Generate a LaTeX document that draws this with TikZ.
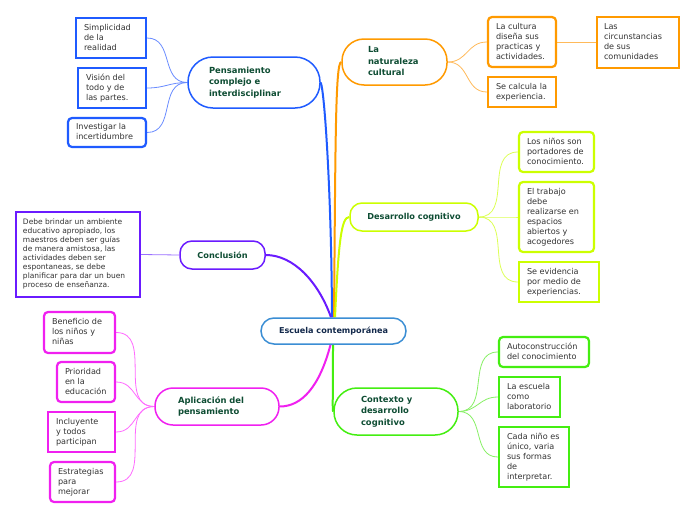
\documentclass[tikz,border=0pt]{standalone}
\usepackage{fontspec}
\setmainfont{DejaVu Sans}
\usetikzlibrary{calc}
\pgfdeclarelayer{bg}
\pgfdeclarelayer{conn}
\pgfsetlayers{bg,conn,main}
\definecolor{blueM}{HTML}{1F5BFF}
\definecolor{blueL}{HTML}{6A8CFF}
\definecolor{orangeM}{HTML}{FF9A00}
\definecolor{orangeL}{HTML}{FFBA5A}
\definecolor{limeM}{HTML}{CCFF00}
\definecolor{limeL}{HTML}{DDFF55}
\definecolor{purpleM}{HTML}{6A1BFF}
\definecolor{purpleL}{HTML}{9A70FF}
\definecolor{magM}{HTML}{F020F0}
\definecolor{magL}{HTML}{FF6BFF}
\definecolor{greenM}{HTML}{44EE11}
\definecolor{greenL}{HTML}{88F066}
\definecolor{centerB}{HTML}{3B8ED4}
\definecolor{leaftext}{HTML}{333333}
\definecolor{topictext}{HTML}{0E4D33}
\definecolor{centertext}{HTML}{13294B}
\newcommand\lbx[2]{\makebox[#1pt][l]{\begin{tabular}{@{}l@{}}#2\end{tabular}}}
\tikzset{
  leafbox/.style={draw=#1, line width=2.2pt, fill=white, text=leaftext, inner ysep=0pt, inner xsep=8pt,
    font=\fontsize{8.1}{10}\selectfont},
  leafround/.style={leafbox=#1, rounded corners=4pt},
  topic/.style={draw=#1, line width=1.5pt, fill=white, text=topictext, inner ysep=0pt,
    font=\bfseries\fontsize{8.4}{11.5}\selectfont},
  mainline/.style={draw=#1, line width=2pt},
  leafline/.style={draw=#1, line width=0.8pt, looseness=1.15},
}
\begin{document}
\begin{tikzpicture}[x=1pt,y=-1pt]
\begin{pgfonlayer}{bg}
\useasboundingbox[fill=white] (0,0) rectangle (696,520);
\end{pgfonlayer}

\node[draw=centerB, line width=1.5pt, fill=white, rounded corners=13pt, minimum width=145pt, minimum height=26pt,
  inner sep=0pt, text=centertext, font=\bfseries\fontsize{8.1}{10}\selectfont] (c) at (333.5,331) {Escuela contemporánea};

% Pensamiento branch
\node[topic=blueM, rounded corners=25pt, minimum height=51pt, inner xsep=21pt] (pens) at (254,82.5)
  {\lbx{90}{Pensamiento\\complejo e\\interdisciplinar}};
\node[leafbox=blueM] (simp) at (111,38) [minimum height=40pt] {\lbx{54}{Simplicidad\\de la\\realidad}};
\node[leafbox=blueM] (vis) at (112,88) [minimum height=40pt] {\lbx{52}{Visión del\\todo y de\\las partes.}};
\node[leafround=blueM] (inv) at (107,132.5) [minimum height=29pt] {\lbx{62}{Investigar la\\incertidumbre}};

% Naturaleza branch
\node[topic=orangeM, rounded corners=22pt, minimum height=46pt, inner xsep=26pt] (nat) at (394.5,62)
  {\lbx{53}{La\\naturaleza\\cultural}};
\node[leafround=orangeM] (cult) at (522,42) [minimum height=50pt] {\lbx{52}{La cultura\\diseña sus\\practicas y\\actividades.}};
\node[leafbox=orangeM, inner xsep=7pt] (circ) at (638,42.5) [minimum height=51pt] {\lbx{68}{Las\\circunstancias\\de sus\\comunidades}};
\node[leafbox=orangeM] (calc) at (522,92) [minimum height=30pt] {\lbx{52}{Se calcula la\\experiencia.}};

% Desarrollo cognitivo branch
\node[topic=limeM, rounded corners=12pt, minimum height=28pt, minimum width=128pt, inner xsep=0pt,
  font=\bfseries\fontsize{8.2}{11.5}\selectfont] (des) at (414,217) {Desarrollo cognitivo};
\node[leafround=limeM] (nin) at (556.5,152) [minimum height=40pt] {\lbx{59}{Los niños son\\portadores de\\conocimiento.}};
\node[leafround=limeM] (trab) at (556.5,217) [minimum height=70pt] {\lbx{59}{El trabajo\\debe\\realizarse en\\espacios\\abiertos y\\acogedores}};
\node[leafbox=limeM] (evid) at (559,282) [minimum height=40pt] {\lbx{64}{Se evidencia\\por medio de\\experiencias.}};

% Conclusion branch
\node[topic=purpleM, rounded corners=12pt, minimum height=28pt, minimum width=85pt, inner xsep=0pt,
  font=\bfseries\fontsize{8.2}{11.5}\selectfont] (conc) at (222.5,255) {Conclusión};
\node[leafbox=purpleM, inner xsep=7pt, font=\fontsize{7.5}{9}\selectfont] (debe) at (78,254.5) [minimum height=85pt]
  {\lbx{110}{Debe brindar un ambiente\\educativo apropiado, los\\maestros deben ser guías\\de manera amistosa, las\\actividades deben ser\\espontaneas, se debe\\planificar para dar un buen\\proceso de enseñanza.}};

% Aplicacion branch
\node[topic=magM, rounded corners=18pt, minimum height=37pt, inner xsep=23pt] (apl) at (217,406.5)
  {\lbx{78}{Aplicación del\\pensamiento}};
\node[leafround=magM] (ben) at (79.5,332.5) [minimum height=41pt] {\lbx{55}{Beneficio de\\los niños y\\niñas}};
\node[leafround=magM] (pri) at (86,382) [minimum height=40pt] {\lbx{42}{Prioridad\\en la\\educación}};
\node[leafbox=magM] (inc) at (81.5,432) [minimum height=40pt] {\lbx{51}{Incluyente\\y todos\\participan}};
\node[leafround=magM] (est) at (82.5,482) [minimum height=40pt] {\lbx{49}{Estrategias\\para\\mejorar}};

% Contexto branch
\node[topic=greenM, rounded corners=23pt, minimum height=47pt, inner xsep=27pt] (ctx) at (396,411.5)
  {\lbx{70}{Contexto y\\desarrollo\\cognitivo}};
\node[leafround=greenM] (auto) at (544,352) [minimum height=30pt] {\lbx{74}{Autoconstrucción\\del conocimiento}};
\node[leafbox=greenM] (lab) at (529.5,397) [minimum height=40pt] {\lbx{45}{La escuela\\como\\laboratorio}};
\node[leafbox=greenM] (cada) at (534,457) [minimum height=60pt] {\lbx{54}{Cada niño es\\único, varia\\sus formas\\de\\interpretar.}};

% ---- connectors (behind nodes) ----
\begin{pgfonlayer}{conn}
% main branches
\draw[mainline=blueM] ($(c.north)+(-1.5,0)$) .. controls ($(c.north)+(-2,-120)$) and ($(pens.east)+(4,10)$) .. (pens.east);
\draw[mainline=orangeM] ($(c.north)+(0.5,0)$) .. controls ($(c.north)+(2,-170)$) and ($(nat.west)+(-6,0)$) .. (nat.west);
\draw[mainline=limeM] ($(c.north)+(1.5,0)$) .. controls ($(c.north)+(5,-75)$) and ($(des.west)+(-8,0)$) .. (des.west);
\draw[mainline=purpleM] ($(c.north)+(-2.5,0)$) .. controls ($(c.north)+(-15,-35)$) and ($(conc.east)+(28,0)$) .. (conc.east);
\draw[mainline=magM] ($(c.south)+(-3,0)$) .. controls ($(c.south)+(-14,42)$) and ($(apl.east)+(22,0)$) .. (apl.east);
\draw[mainline=greenM] ($(c.south)+(-0.5,0)$) .. controls ($(c.south)+(-0.5,55)$) and ($(ctx.west)+(-1,0)$) .. (ctx.west);
% leaves
\draw[leafline=blueL] (pens.west) to[out=180,in=0] (simp.east);
\draw[leafline=blueL] (pens.west) to[out=180,in=0] (vis.east);
\draw[leafline=blueL] (pens.west) to[out=180,in=0] (inv.east);
\draw[leafline=orangeL] (nat.east) to[out=0,in=180] (cult.west);
\draw[leafline=orangeL] (nat.east) to[out=0,in=180] (calc.west);
\draw[leafline=orangeL] (cult.east) -- (circ.west |- cult.east);
\draw[leafline=limeL] (des.east) to[out=0,in=180] (nin.west);
\draw[leafline=limeL] (des.east) to[out=0,in=180] (trab.west);
\draw[leafline=limeL] (des.east) to[out=0,in=180] (evid.west);
\draw[leafline=purpleL] (conc.west) -- (debe.east);
\draw[leafline=magL] (apl.west) to[out=180,in=0] (ben.east);
\draw[leafline=magL] (apl.west) to[out=180,in=0] (pri.east);
\draw[leafline=magL] (apl.west) to[out=180,in=0] (inc.east);
\draw[leafline=magL] (apl.west) to[out=180,in=0] (est.east);
\draw[leafline=greenL] (ctx.east) to[out=0,in=180] (auto.west);
\draw[leafline=greenL] (ctx.east) to[out=0,in=180] (lab.west);
\draw[leafline=greenL] (ctx.east) to[out=0,in=180] (cada.west);
\end{pgfonlayer}
\end{tikzpicture}
\end{document}
